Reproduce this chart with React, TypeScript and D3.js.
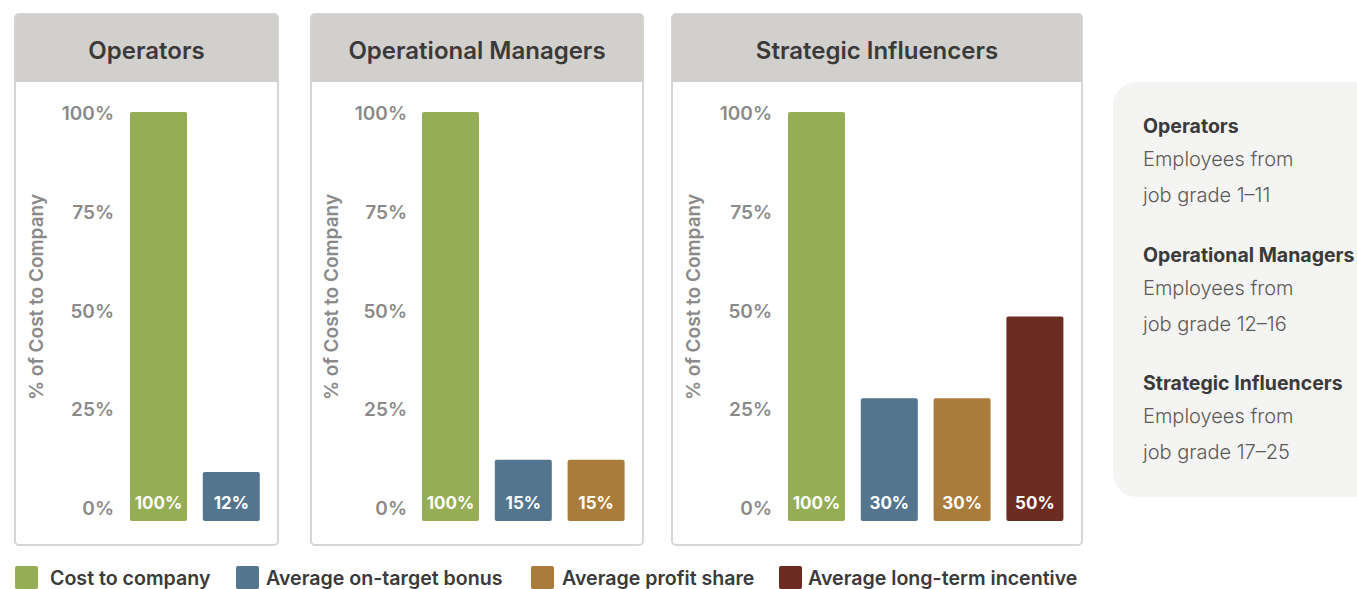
import React from "react";
import * as d3 from "d3";

const groups = ["Operators", "Operational Managers", "Strategic Influencers"];
const seriesNames = ["Cost to company", "Average on-target bonus", "Average profit share", "Average long-term incentive"];
const seriesColors = ["#95ad55", "#53758e", "#aa7c3b", "#6d2c22"];
const operatorsValues = [100, 12];
const managersValues = [100, 15, 15];
const influencersValues = [100, 30, 30, 50];
const barValueLabels = [["100%", "12%"], ["100%", "15%", "15%"], ["100%", "30%", "30%", "50%"]];
const tickValues = [0, 25, 50, 75, 100];
const axisTitle = "% of Cost to Company";
const infoTitles = ["Operators", "Operational Managers", "Strategic Influencers"];
const infoLine1 = ["Employees from", "Employees from", "Employees from"];
const infoLine2 = ["job grade 1–11", "job grade 12–16", "job grade 17–25"];

const allValues = [operatorsValues, managersValues, influencersValues];

const FONT = "Inter, 'Noto Sans', sans-serif";

const panels = [
  { x: 15, w: 263, tickX: 114, titleX: 38, barX: 130 },
  { x: 311, w: 332, tickX: 407, titleX: 333, barX: 422 },
  { x: 672, w: 410, tickX: 772, titleX: 695, barX: 788 },
];

const STEP = 72.8;
const BAR_W = 57;

export default function App() {
  const top = 14;
  const headerH = 68;
  const bottom = 545;
  const yBar = d3.scaleLinear().domain([0, 100]).range([521, 112]);
  const yTick = d3.scaleLinear().domain([0, 100]).range([510, 115]);
  const legendX = [15, 236, 531, 779];
  const legendTextX = [50, 266, 562, 808];
  const pad = (STEP - BAR_W) / STEP;
  return (
    <svg width={1357} height={589} style={{ position: "absolute", left: 0, top: 0, fontFamily: FONT }}>
      {panels.map((p, gi) => {
        const vals = allValues[gi];
        const xBand = d3
          .scaleBand<number>()
          .domain(vals.map((_, i) => i))
          .range([p.barX, p.barX + STEP * vals.length - (STEP - BAR_W)])
          .paddingInner(pad)
          .paddingOuter(0);
        return (
          <g key={gi}>
            <rect x={p.x} y={top} width={p.w} height={bottom - top} rx={4} fill="#fff" stroke="#d6d6d4" strokeWidth={2} />
            <path
              d={`M${p.x} ${top + headerH} V${top + 4} Q${p.x} ${top} ${p.x + 4} ${top} H${p.x + p.w - 4} Q${p.x + p.w} ${top} ${p.x + p.w} ${top + 4} V${top + headerH} Z`}
              fill="#d2d0cc"
            />
            <text x={p.x + p.w / 2} y={top + headerH / 2 + 4} textAnchor="middle" dominantBaseline="middle" fontSize={24} fontWeight={600} fill="#3a3a3a">
              {groups[gi]}
            </text>
            {tickValues.map((t) => (
              <text key={t} x={p.tickX} y={yTick(t)} textAnchor="end" dominantBaseline="middle" fontSize={19} fontWeight={600} fill="#8a8a8a">
                {t}%
              </text>
            ))}
            <text
              transform={`translate(${p.titleX},${297}) rotate(-90)`}
              textAnchor="middle"
              dominantBaseline="middle"
              fontSize={19}
              fontWeight={600}
              fill="#8a8a8a"
            >
              {axisTitle}
            </text>
            {vals.map((v, i) => (
              <g key={i}>
                <rect x={xBand(i)} y={yBar(v)} width={xBand.bandwidth()} height={yBar(0) - yBar(v)} rx={2} fill={seriesColors[i]} />
                <text
                  x={(xBand(i) as number) + xBand.bandwidth() / 2}
                  y={504}
                  textAnchor="middle"
                  dominantBaseline="middle"
                  fontSize={17}
                  fontWeight={700}
                  fill="#fff"
                >
                  {barValueLabels[gi][i]}
                </text>
              </g>
            ))}
          </g>
        );
      })}
      {seriesNames.map((s, i) => (
        <g key={s}>
          <rect x={legendX[i]} y={566} width={23} height={23} rx={2} fill={seriesColors[i]} />
          <text x={legendTextX[i]} y={580} dominantBaseline="middle" fontSize={19.6} fontWeight={600} fill="#3a3a3a">
            {s}
          </text>
        </g>
      ))}
      <rect x={1113} y={82} width={280} height={415} rx={24} fill="#f4f4f2" />
      {infoTitles.map((t, i) => {
        const y0 = 128 + i * 128.5;
        return (
          <g key={t}>
            <text x={1143} y={y0} dominantBaseline="middle" fontSize={19.5} fontWeight={700} fill="#3a3a3a">
              {t}
            </text>
            <text x={1143} y={y0 + 33} dominantBaseline="middle" fontSize={20} fontWeight={300} fill="#5a5a5a">
              {infoLine1[i]}
            </text>
            <text x={1143} y={y0 + 69} dominantBaseline="middle" fontSize={20} fontWeight={300} fill="#5a5a5a">
              {infoLine2[i]}
            </text>
          </g>
        );
      })}
    </svg>
  );
}
